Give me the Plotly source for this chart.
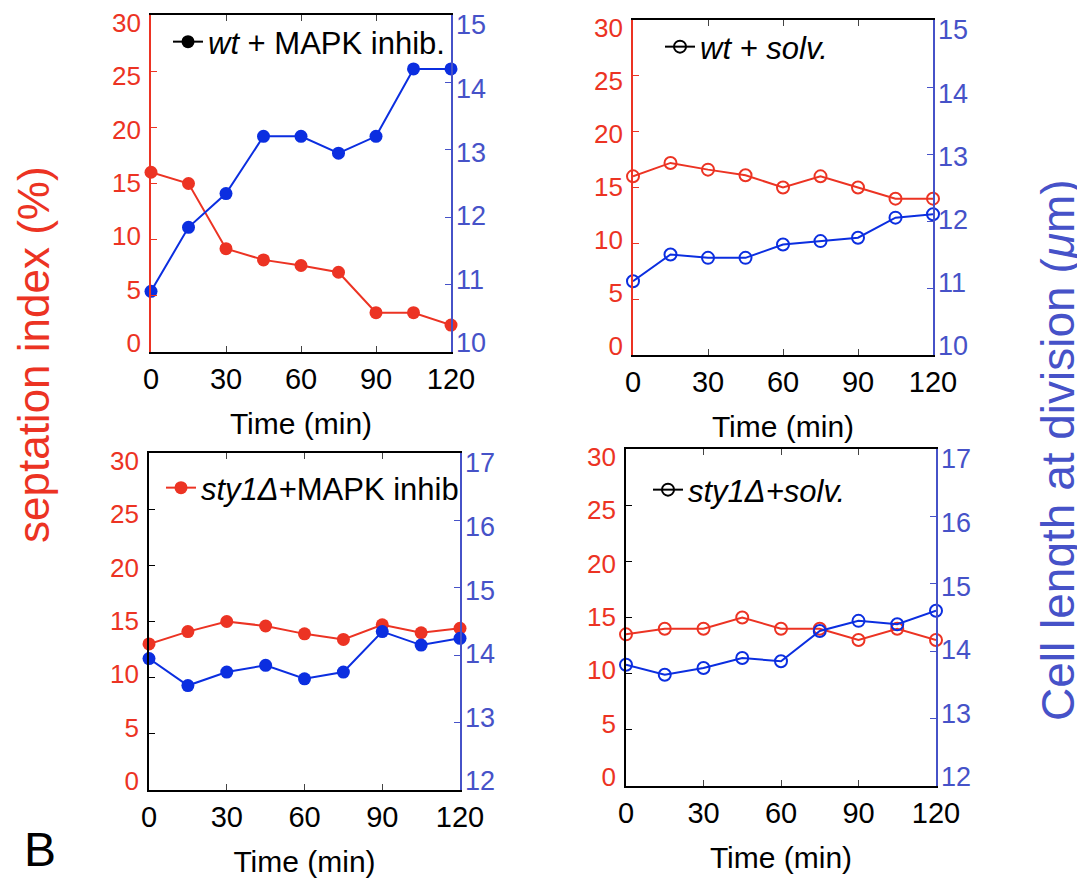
import plotly.graph_objects as go

# Data
time_min = [0, 15, 30, 45, 60, 75, 90, 105, 120]
time_ticks = [0, 30, 60, 90, 120]

wt_mapk_sept = [16, 15, 9.2, 8.2, 7.7, 7.1, 3.5, 3.5, 2.4]
wt_mapk_len = [10.9, 11.85, 12.35, 13.2, 13.2, 12.95, 13.2, 14.2, 14.2]
wt_solv_sept = [16, 17.2, 16.6, 16.1, 15.0, 16.0, 15.0, 14.0, 14.0]
wt_solv_len = [11.1, 11.5, 11.45, 11.45, 11.65, 11.7, 11.75, 12.05, 12.1]
sty1_mapk_sept = [13, 14.1, 15, 14.6, 13.9, 13.4, 14.7, 14.0, 14.4]
sty1_mapk_len = [13.95, 13.55, 13.75, 13.85, 13.65, 13.75, 14.35, 14.15, 14.25]
sty1_solv_sept = [13.5, 14, 14, 15, 14, 14, 13, 14, 13]
sty1_solv_len = [13.8, 13.65, 13.75, 13.9, 13.85, 14.3, 14.45, 14.4, 14.6]

legend_names = ["<i>wt</i> + MAPK inhib.", "<i>wt + solv.</i>",
                "<i>sty1\u0394</i>+MAPK inhib", "<i>sty1\u0394+solv.</i>"]

# the page body adds an 8px margin, so the figure is drawn 8px smaller and
# all pixel positions below are taken in window coordinates
OFF = 8
W, H = 1085 - OFF, 879 - OFF
RED = "#ec3323"
BLUE = "#0b2ee0"
AXBLUE = "#4652c8"
FONT = "Liberation Sans"


def px(x):
    return (x - OFF) / W


def py(y):
    return 1 - (y - OFF) / H


# panel boxes in pixels: left, right, top, bottom
panels = [
    (151, 451, 15, 352, [10, 15], RED, True),
    (633, 933, 20, 355, [10, 15], RED, False),
    (149, 460, 453, 790, [12, 17], "black", True),
    (626, 936, 449, 786, [12, 17], "black", False),
]
series = [
    (wt_mapk_sept, wt_mapk_len),
    (wt_solv_sept, wt_solv_len),
    (sty1_mapk_sept, sty1_mapk_len),
    (sty1_solv_sept, sty1_solv_len),
]
# legend text start x, text centre y
legend_pos = [(210, 42), (702, 47), (203, 488), (690, 490)]
legend_color = ["black", "black", RED, "black"]

# in the original the tick labels sit on a slightly squeezed scale:
# (inset at top, inset at bottom) in px for the left and right labels
LEFT_INSET = (8, 9)
RIGHT_INSET = (10, 9)

fig = go.Figure()
layout = dict(width=W, height=H, margin=dict(l=0, r=0, t=0, b=0),
              plot_bgcolor="rgba(0,0,0,0)", paper_bgcolor="white",
              font=dict(family=FONT, color="black"), showlegend=True)

for i, (l, r, t, b, rrange, lcol, filled) in enumerate(panels):
    xa = "xaxis" if i == 0 else "xaxis%d" % (i + 1)
    xref = "x" if i == 0 else "x%d" % (i + 1)
    n = 4 * i
    yl_name = "yaxis" if n == 0 else "yaxis%d" % (n + 1)
    yl_ref = "y" if n == 0 else "y%d" % (n + 1)
    yr_name, yr_ref = "yaxis%d" % (n + 2), "y%d" % (n + 2)
    lab_l_name, lab_l_ref = "yaxis%d" % (n + 3), "y%d" % (n + 3)
    lab_r_name, lab_r_ref = "yaxis%d" % (n + 4), "y%d" % (n + 4)

    layout[xa] = dict(domain=[px(l), px(r)], range=[0, 120], anchor=yl_ref,
                      tickvals=time_ticks, ticks="inside", ticklen=6,
                      showline=True, linecolor="black", linewidth=2, mirror="ticks",
                      showgrid=False, zeroline=False, automargin=False,
                      tickfont=dict(size=29, color="black"),
                      title=dict(text="Time (min)", font=dict(size=30), standoff=19))
    layout[yl_name] = dict(domain=[py(b), py(t)], range=[0, 30], anchor=xref,
                           dtick=5, ticks="inside", ticklen=6, tickcolor=lcol,
                           showline=True, linecolor=lcol, linewidth=2,
                           showgrid=False, zeroline=False, automargin=False,
                           showticklabels=False)
    layout[yr_name] = dict(overlaying=yl_ref, side="right", anchor=xref,
                           range=rrange, dtick=1, ticks="inside", ticklen=6,
                           tickcolor=AXBLUE, showline=True, linecolor=AXBLUE,
                           linewidth=2, showgrid=False, zeroline=False,
                           automargin=False, showticklabels=False)
    # label-only axes (the original's labels sit on a slightly squeezed scale)
    layout[lab_l_name] = dict(domain=[py(b - LEFT_INSET[1]), py(t + LEFT_INSET[0])],
                              anchor=xref, side="left", range=[0, 30], dtick=5,
                              ticks="", showline=False, showgrid=False,
                              zeroline=False, automargin=False,
                              ticklabelstandoff=9, ticklabeloverflow="allow",
                              tickfont=dict(size=26, color=RED))
    layout[lab_r_name] = dict(domain=[py(b - RIGHT_INSET[1]), py(t + RIGHT_INSET[0])],
                              anchor=xref, side="right", range=rrange, dtick=1,
                              ticks="", showline=False, showgrid=False,
                              zeroline=False, automargin=False,
                              ticklabelstandoff=4, ticklabeloverflow="allow",
                              tickfont=dict(size=27, color=AXBLUE))

    sept, length = series[i]
    if filled:
        mk_r = dict(size=13, color=RED)
        mk_b = dict(size=13, color=BLUE)
        mk_l = dict(size=13, color=legend_color[i])
    else:
        mk_r = dict(size=12, symbol="circle-open", color=RED, line=dict(width=2))
        mk_b = dict(size=12, symbol="circle-open", color=BLUE, line=dict(width=2))
        mk_l = dict(size=12, symbol="circle-open", color=legend_color[i],
                    line=dict(width=2))

    # empty traces so the label axes get drawn
    for ref in (lab_l_ref, lab_r_ref):
        fig.add_trace(go.Scatter(x=[None], y=[None], xaxis=xref, yaxis=ref,
                                 mode="markers", showlegend=False, hoverinfo="skip"))

    fig.add_trace(go.Scatter(x=time_min, y=sept, xaxis=xref, yaxis=yl_ref,
                             mode="lines+markers", line=dict(color=RED, width=2),
                             marker=mk_r, cliponaxis=False, showlegend=False))
    fig.add_trace(go.Scatter(x=time_min, y=length, xaxis=xref, yaxis=yr_ref,
                             mode="lines+markers", line=dict(color=BLUE, width=2),
                             marker=mk_b, cliponaxis=False, showlegend=False))

    # legend entry
    leg = "legend" if i == 0 else "legend%d" % (i + 1)
    lx, ly = legend_pos[i]
    layout[leg] = dict(x=px(lx - 42), y=py(ly), xanchor="left", yanchor="middle",
                       bgcolor="rgba(0,0,0,0)", borderwidth=0,
                       font=dict(size=31, color="black"))
    fig.add_trace(go.Scatter(x=[None], y=[None], xaxis=xref, yaxis=yl_ref,
                             mode="lines+markers", name=legend_names[i],
                             line=dict(color=legend_color[i], width=2),
                             marker=mk_l, legend=leg))

fig.update_layout(**layout)

fig.add_annotation(text="septation index (%)", textangle=-90, x=px(34), y=py(355),
                   xref="paper", yref="paper", xanchor="center", yanchor="middle",
                   showarrow=False, font=dict(size=44, color=RED))
fig.add_annotation(text="Cell length at division (<i>\u03bc</i>m)", textangle=-90,
                   x=px(1058), y=py(450), xref="paper", yref="paper",
                   xanchor="center", yanchor="middle", showarrow=False,
                   font=dict(size=46, color=AXBLUE))
fig.add_annotation(text="B", x=px(22), y=py(878), xref="paper", yref="paper",
                   xanchor="left", yanchor="bottom", showarrow=False,
                   font=dict(size=48, color="black"))

fig.write_html("out.html")
